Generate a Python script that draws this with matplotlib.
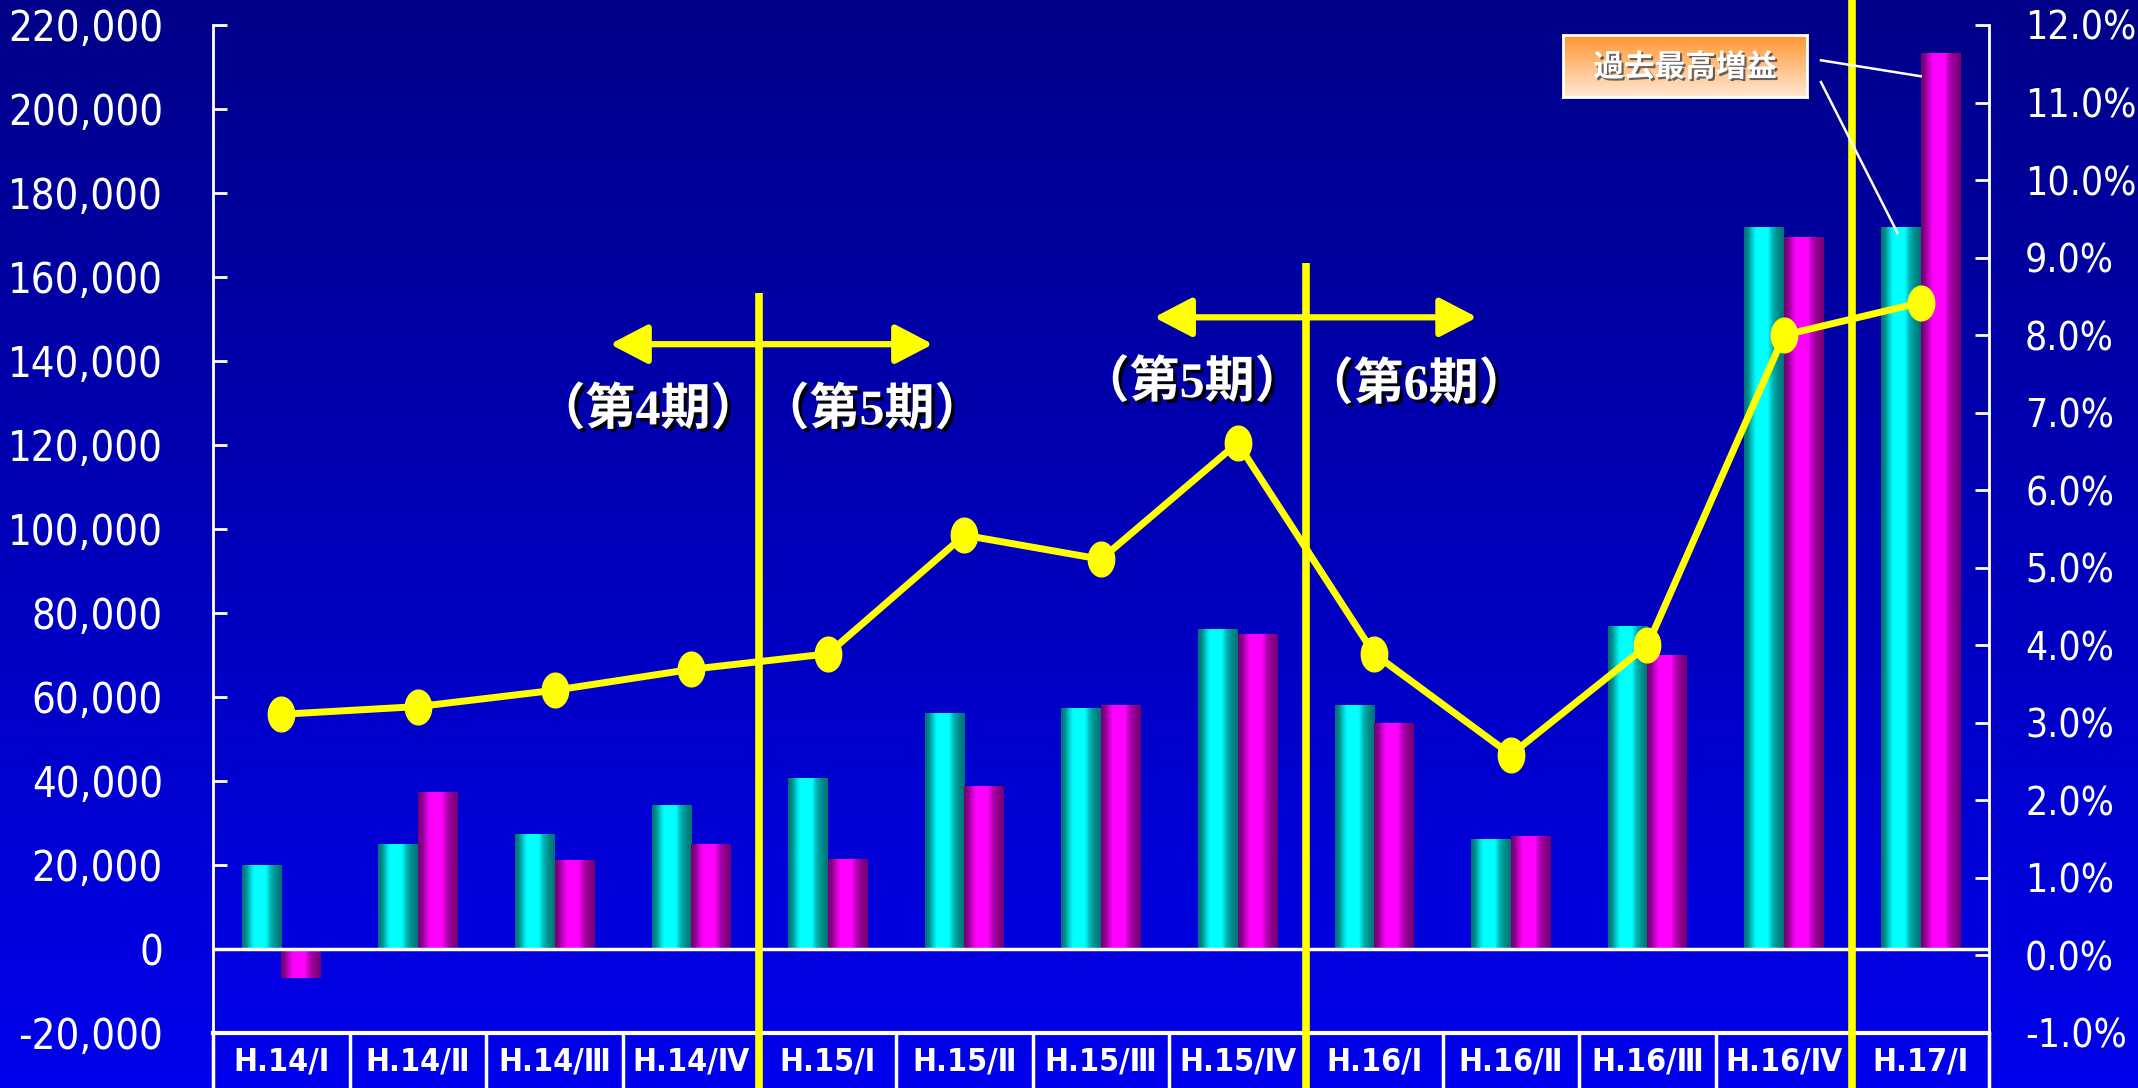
import numpy as np
import matplotlib
matplotlib.use("Agg")
import matplotlib.pyplot as plt
import matplotlib.transforms as mtransforms
import matplotlib.patheffects as pe
from matplotlib.patches import FancyArrowPatch
from matplotlib.path import Path
from matplotlib.ticker import MultipleLocator, FuncFormatter

# ---------------- data ----------------
categories = ["H.14/Ⅰ", "H.14/Ⅱ", "H.14/Ⅲ", "H.14/Ⅳ", "H.15/Ⅰ", "H.15/Ⅱ", "H.15/Ⅲ",
              "H.15/Ⅳ", "H.16/Ⅰ", "H.16/Ⅱ", "H.16/Ⅲ", "H.16/Ⅳ", "H.17/Ⅰ"]
cyan_values = [20000, 25000, 27300, 34200, 40600, 56300, 57500, 76200, 58200, 26100, 77000, 172000, 172000]
magenta_values = [-7000, 37500, 21100, 25000, 21400, 38700, 58200, 75000, 53700, 26800, 70100, 169600, 213300]
ratio_values = [3.11, 3.21, 3.42, 3.69, 3.89, 5.42, 5.11, 6.61, 3.89, 2.59, 4.00, 8.00, 8.42]
period_labels = ["（第4期）", "（第5期）", "（第5期）", "（第6期）"]
highlight_label = "過去最高増益"

plt.rcParams["font.family"] = ["DejaVu Sans", "Noto Sans CJK JP"]
plt.rcParams["font.stretch"] = "condensed"

W, H = 2138, 1088
fig = plt.figure(figsize=(W / 100, H / 100), dpi=100)

# background gradient
bg = fig.add_axes([0, 0, 1, 1], zorder=-10)
t = np.linspace(0, 1, 256)[:, None]
top_c = np.array([0, 0, 136]) / 255
bot_c = np.array([0, 0, 236]) / 255
grad = top_c[None, None, :] * (1 - t[..., None]) + bot_c[None, None, :] * t[..., None]
grad = np.repeat(grad, 2, axis=1)
bg.imshow(grad, aspect="auto", extent=[0, 1, 0, 1], interpolation="bilinear")
bg.set_axis_off()

ax = fig.add_axes([213 / W, 55 / H, 1776 / W, 1008 / H])
ax.patch.set_alpha(0)
ax2 = ax.twinx()
ax2.patch.set_alpha(0)

x = np.arange(len(categories))
w = 0.29

def profile(n=96):
    p = np.linspace(0, 1, n)
    return np.interp(p, [0, 0.1, 0.22, 0.3, 0.6, 0.72, 0.85, 1.0],
                     [0.45, 0.55, 0.85, 1.0, 1.0, 0.7, 0.55, 0.45])

I = profile()
cyan_img = np.stack([np.zeros_like(I), I, I], axis=-1)[None, :, :]
mag_img = np.stack([I, np.zeros_like(I), I], axis=-1)[None, :, :]

cb = ax.bar(x - w, cyan_values, width=w, align="edge", facecolor="none", edgecolor="none", zorder=2)
mb = ax.bar(x, magenta_values, width=w, align="edge", facecolor="none", edgecolor="none", zorder=2)
for bars, img in ((cb, cyan_img), (mb, mag_img)):
    for p in bars:
        x0, y0 = p.get_x(), p.get_y()
        im = ax.imshow(img, extent=[x0, x0 + p.get_width(), y0, y0 + p.get_height()],
                       aspect="auto", interpolation="bilinear", zorder=2)
        im.set_clip_path(p)

ax.set_xlim(-0.5, len(categories) - 0.5)
ax.set_ylim(-20000, 220000)
ax2.set_ylim(-1, 12)
ax.set_xticks([])

# zero line
ax.axhline(0, color="white", lw=2.5, zorder=3)

# spines
for a in (ax, ax2):
    for s in a.spines.values():
        s.set_visible(False)
ax.spines["left"].set_visible(True)
ax.spines["left"].set_color("white")
ax.spines["left"].set_linewidth(2)
ax.spines["bottom"].set_visible(True)
ax.spines["bottom"].set_color("white")
ax.spines["bottom"].set_linewidth(3)
ax2.spines["right"].set_visible(True)
ax2.spines["right"].set_color("white")
ax2.spines["right"].set_linewidth(2)

ax.yaxis.set_major_locator(MultipleLocator(20000))
ax.yaxis.set_major_formatter(FuncFormatter(lambda v, _: f"{int(round(v)):,}"))
ax.tick_params(axis="y", direction="in", length=10, width=2, colors="white",
               labelsize=30, pad=36)
ax2.yaxis.set_major_locator(MultipleLocator(1))
ax2.yaxis.set_major_formatter(FuncFormatter(lambda v, _: f"{v:.1f}%"))
ax2.tick_params(axis="y", direction="in", length=10, width=2, colors="white",
                labelsize=28, pad=26)
ax2.set_xticks([])

# ratio line with tall elliptical markers
th = np.linspace(0, 2 * np.pi, 60)
ell = Path(np.column_stack([0.76 * np.cos(th), np.sin(th)]), closed=True)
ax2.plot(x, ratio_values, color="yellow", lw=5, marker=ell, markersize=25,
         markerfacecolor="yellow", markeredgecolor="yellow", zorder=5, clip_on=False)

# category label row
btr = mtransforms.blended_transform_factory(ax.transData, ax.transAxes)
row_bottom = -56 / 1008
for i, lab in enumerate(categories):
    ax.plot([i - 0.5, i - 0.5], [0, row_bottom], color="white", lw=2.5,
            transform=btr, clip_on=False, zorder=3)
    ax.text(i, -29 / 1008, lab, transform=btr, ha="center", va="center",
            color="white", fontsize=23, fontweight="bold", clip_on=False)
ax.plot([len(categories) - 0.5] * 2, [0, row_bottom], color="white", lw=2.5,
        transform=btr, clip_on=False, zorder=3)

# yellow period separators
for bx, ytop in ((3.5, 0.734), (7.5, 0.764), (11.5, 1.05)):
    ax.plot([bx, bx], [ytop, row_bottom], color="yellow", lw=5.5, transform=btr,
            clip_on=False, zorder=4, solid_capstyle="butt")

# double arrows
for xa, xb, ya in ((2.406, 4.77, 144000), (6.389, 8.753, 150400)):
    arr = FancyArrowPatch((xa, ya), (xb, ya), arrowstyle="<|-|>,head_length=2.3,head_width=1.2",
                          mutation_scale=10, color="yellow", lw=4.5, shrinkA=0, shrinkB=0,
                          zorder=4)
    ax.add_patch(arr)

shadow = [pe.SimplePatchShadow(offset=(2.5, -2.5), shadow_rgbFace="black", alpha=0.9), pe.Normal()]
for (tx, ty), s in zip(((2.684, 128000), (4.324, 128000), (6.667, 134500), (8.307, 134000)),
                       period_labels):
    ax.text(tx, ty, s, ha="center", va="center", color="white", fontsize=36,
            fontweight="bold", fontstretch="normal",
            family=["Liberation Serif", "Noto Sans CJK JP"],
            path_effects=shadow, zorder=6)

# leader lines
ax.plot([11.27, 12.0], [211600, 207800], color="white", lw=1.8, zorder=7, clip_on=False)
ax.plot([11.27, 11.83], [206400, 170500], color="white", lw=1.8, zorder=7, clip_on=False)

# highlight box
bax = fig.add_axes([1563 / W, 1 - 97 / H, 244 / W, 62 / H])
tt = np.linspace(0, 1, 64)[:, None]
o_top = np.array([255, 150, 50]) / 255
o_bot = np.array([255, 232, 210]) / 255
og = o_top[None, None, :] * (1 - tt[..., None]) + o_bot[None, None, :] * tt[..., None]
og = np.repeat(og, 2, axis=1)
bax.imshow(og, aspect="auto", extent=[0, 1, 0, 1], interpolation="bilinear")
bax.set_xticks([])
bax.set_yticks([])
for s in bax.spines.values():
    s.set_color("white")
    s.set_linewidth(2)
bax.text(0.5, 0.48, highlight_label, ha="center", va="center", color="white",
         fontsize=22, fontweight="bold", fontstretch="normal", family=["Noto Sans CJK JP"],
         path_effects=[pe.SimplePatchShadow(offset=(1.5, -1.5), shadow_rgbFace="#555555", alpha=0.9),
                       pe.Normal()], transform=bax.transAxes)

fig.savefig("out.png", dpi=100)
